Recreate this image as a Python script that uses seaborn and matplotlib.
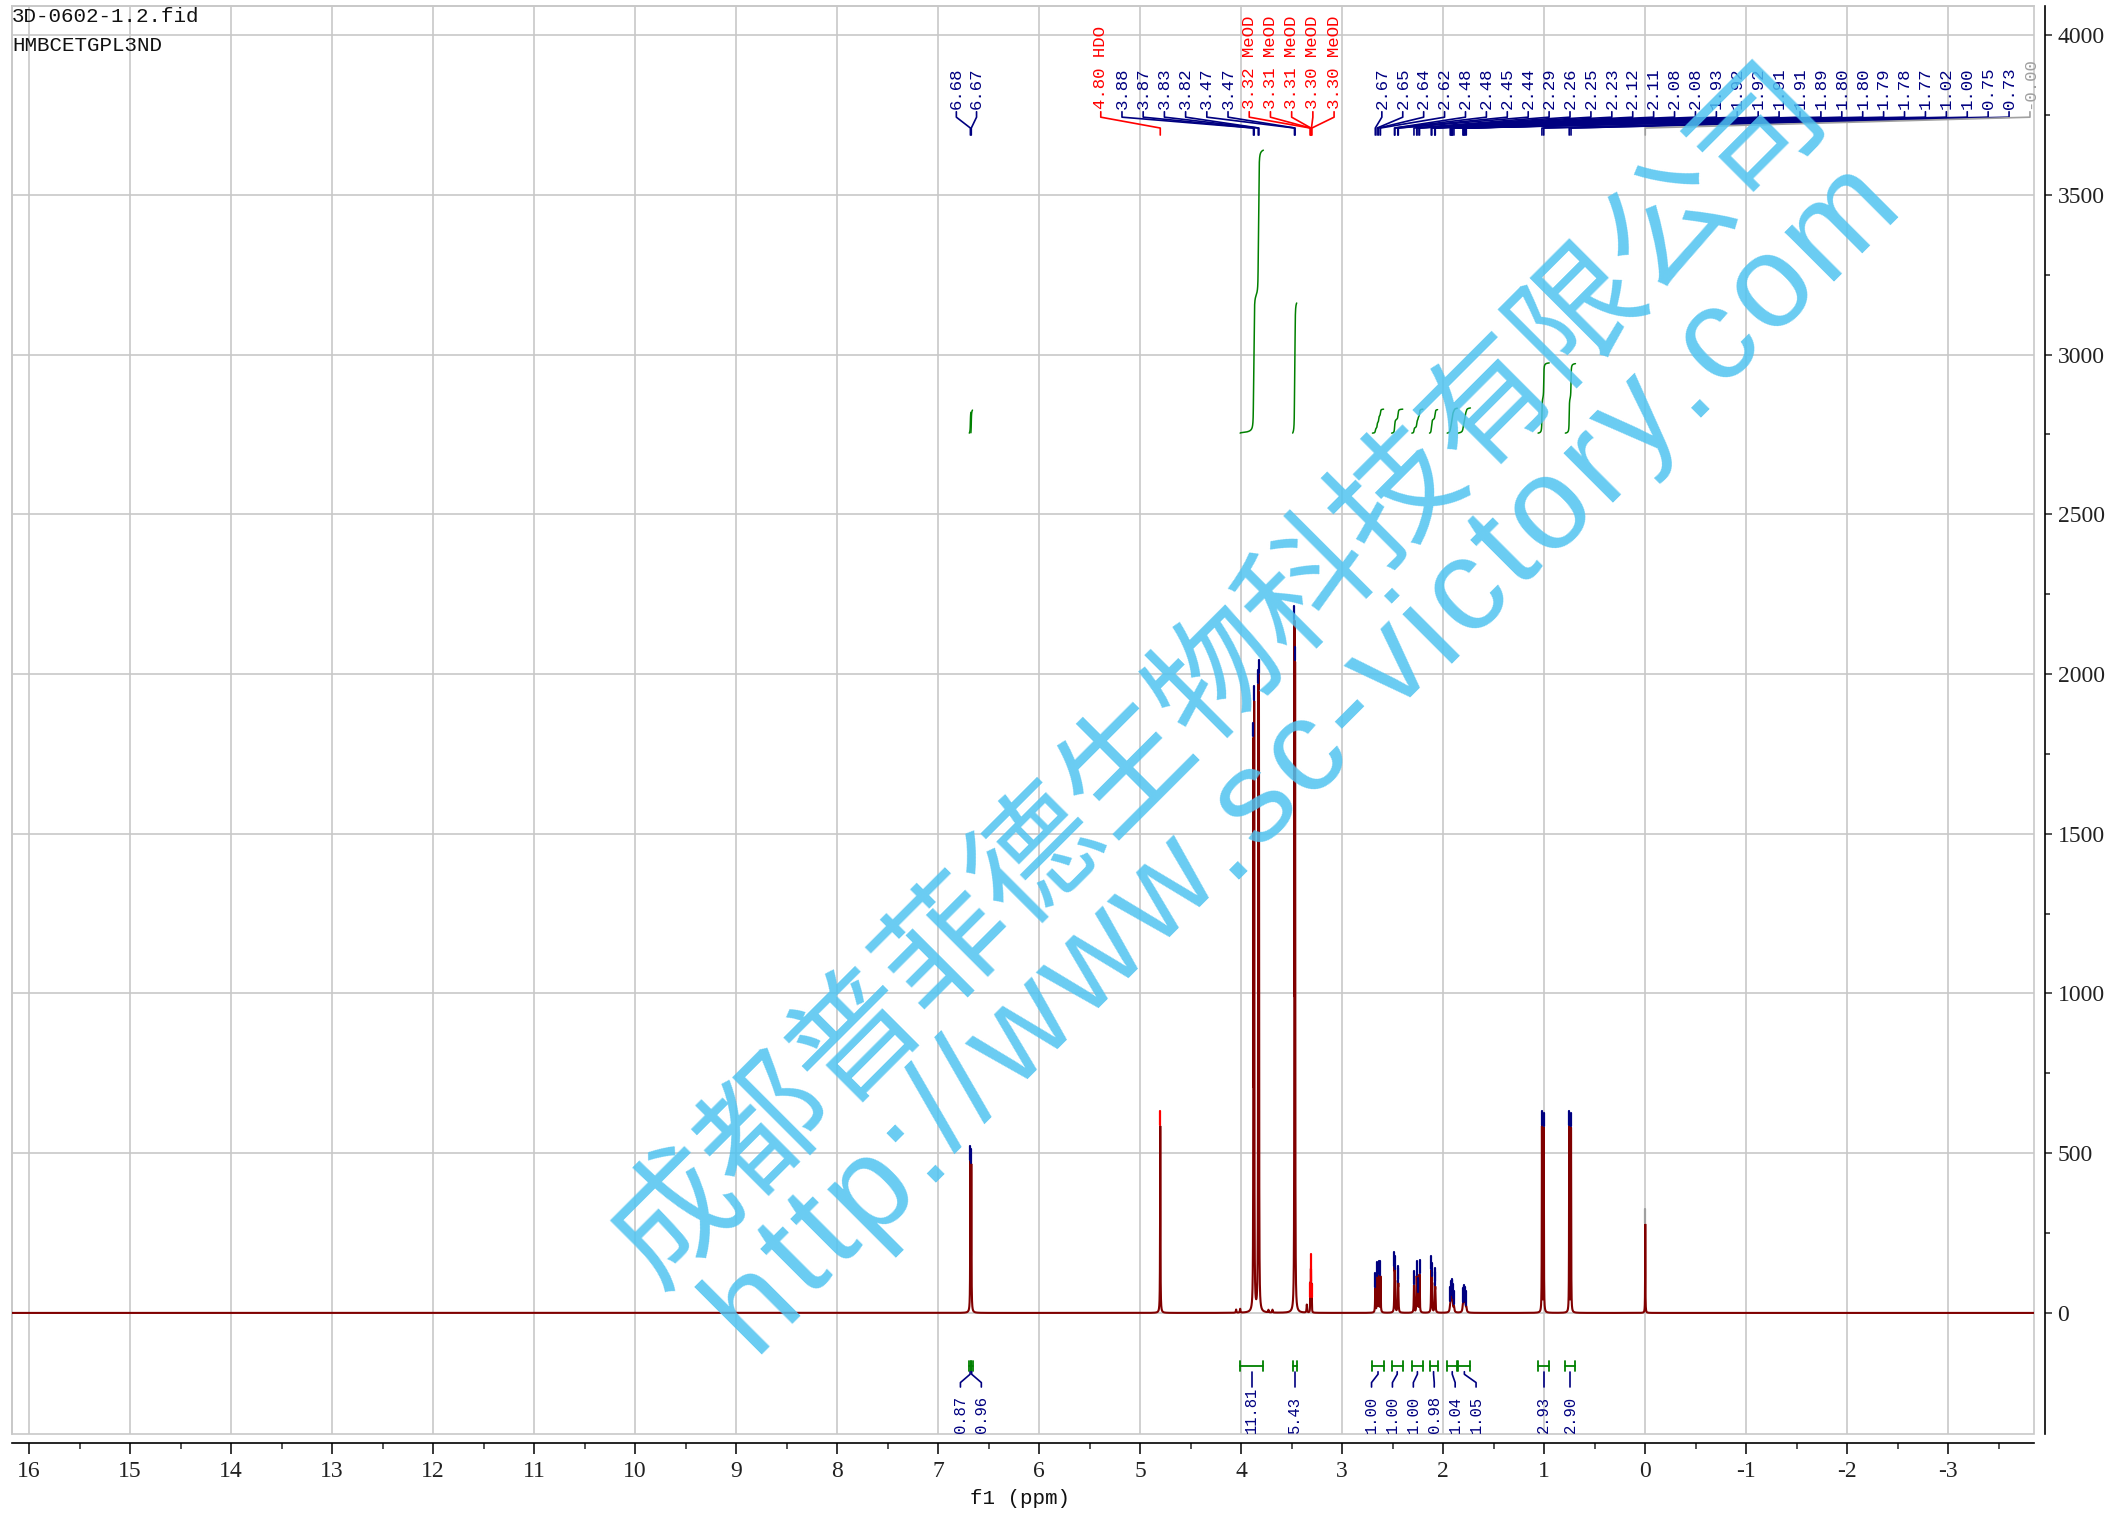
import numpy as np
import pandas as pd
import matplotlib
matplotlib.use("Agg")
import matplotlib.pyplot as plt
import seaborn as sns
from matplotlib.patches import Rectangle

# ---------------- data ----------------
peak_ppm = [6.681, 6.672, 4.801, 3.878, 3.871, 3.831, 3.824, 3.472, 3.466,
            3.317, 3.313, 3.309, 3.304, 3.300,
            2.672, 2.654, 2.638, 2.621, 2.482, 2.478, 2.449, 2.444,
            2.289, 2.262, 2.249, 2.234, 2.118, 2.112, 2.083, 2.078,
            1.930, 1.922, 1.917, 1.912, 1.906, 1.893,
            1.804, 1.798, 1.790, 1.782, 1.771,
            1.022, 1.004, 0.752, 0.734, -0.001]
peak_label = ["6.68", "6.67", "4.80 HDO", "3.88", "3.87", "3.83", "3.82", "3.47", "3.47",
              "3.32 MeOD", "3.31 MeOD", "3.31 MeOD", "3.30 MeOD", "3.30 MeOD",
              "2.67", "2.65", "2.64", "2.62", "2.48", "2.48", "2.45", "2.44",
              "2.29", "2.26", "2.25", "2.23", "2.12", "2.11", "2.08", "2.08",
              "1.93", "1.92", "1.92", "1.91", "1.91", "1.89",
              "1.80", "1.80", "1.79", "1.78", "1.77",
              "1.02", "1.00", "0.75", "0.73", "-0.00"]
peak_height = [455, 445, 585, 1690, 1810, 1850, 1885, 2020, 1880,
               35, 80, 125, 80, 35,
               75, 108, 112, 112, 115, 100, 85, 75,
               85, 112, 55, 118, 118, 92, 80, 65,
               22, 28, 28, 27, 25, 16,
               18, 22, 25, 22, 15,
               580, 575, 580, 575, 278]
peak_fwhm = [0.004, 0.004, 0.004, 0.0035, 0.0035, 0.0035, 0.0035, 0.0035, 0.0035,
             0.0025, 0.0025, 0.0025, 0.0025, 0.0025,
             0.005, 0.005, 0.005, 0.005, 0.005, 0.005, 0.005, 0.005,
             0.005, 0.005, 0.005, 0.005, 0.005, 0.005, 0.005, 0.005,
             0.009, 0.009, 0.009, 0.009, 0.009, 0.009,
             0.010, 0.010, 0.010, 0.010, 0.010,
             0.0035, 0.0035, 0.0035, 0.0035, 0.003]
peak_kind = ["c", "c", "s"] + ["c"] * 6 + ["s"] * 5 + ["c"] * 31 + ["r"]
peak_group = [0, 0] + [1] * 12 + [2] * 32

minor_ppm = [4.05, 4.01, 3.73, 3.69, 3.35]
minor_height = [10, 12, 8, 9, 25]
minor_fwhm = [0.006, 0.006, 0.006, 0.006, 0.006]

integral_start = [6.692, 6.676, 4.01, 3.49, 2.70, 2.51, 2.31, 2.135, 1.96, 1.85, 1.06, 0.79]
integral_end = [6.676, 6.660, 3.78, 3.45, 2.59, 2.40, 2.20, 2.055, 1.86, 1.73, 0.95, 0.69]
integral_value = [0.87, 0.96, 11.81, 5.43, 1.00, 1.00, 1.00, 0.98, 1.04, 1.05, 2.93, 2.90]
integral_label = ["0.87", "0.96", "11.81", "5.43", "1.00", "1.00", "1.00", "0.98",
                  "1.04", "1.05", "2.93", "2.90"]

x_ticks = list(range(-3, 17))
y_ticks = list(range(0, 4001, 500))
header_lines = ["3D-0602-1.2.fid", "HMBCETGPL3ND"]
x_label = "f1 (ppm)"
watermark_cn = "成都普菲德生物科技有限公司"
watermark_url = "http://www.sc-victory.com"

# ---------------- layout constants ----------------
W, H = 2112, 1516
XL, XR = 16.17, -3.85
YB, YT = -379, 4091
SPEC_COLOR = "#800000"
NAVY = "#000080"
RED = "#ff0000"
GRAY = "#a0a0a0"
GREEN = "#008000"
GRID = "#c8c8c8"
WM_COLOR = "#4fc3f0"
kind_color = {"c": NAVY, "s": RED, "r": GRAY}
label_start = [6.82, 5.39, 2.607]
label_step = [0.20, 0.21, 0.207]
INT_BASE = 2754
INT_SCALE = 75
INT_LABEL_STEP = 0.207

sns.set_style("white")
plt.rcParams["axes.unicode_minus"] = False
plt.rcParams["font.family"] = ["Liberation Serif", "DejaVu Serif"]

# ---------------- spectrum ----------------
ppm = np.arange(XL, XR, -0.00025)
spec = np.zeros_like(ppm)
for p, h, w in zip(peak_ppm + minor_ppm, peak_height + minor_height, peak_fwhm + minor_fwhm):
    spec += h / (1.0 + ((ppm - p) / (w / 2.0)) ** 2)
df = pd.DataFrame({"ppm": ppm, "intensity": spec})

fig = plt.figure(figsize=(W / 100, H / 100), dpi=100)
ax = fig.add_axes([12 / W, 1 - 1434 / H, (2034 - 12) / W, (1434 - 6) / H])

sns.lineplot(data=df, x="ppm", y="intensity", estimator=None, sort=False,
             color=SPEC_COLOR, lw=1.5, ax=ax, zorder=4)

# ---------------- integrals ----------------
for a, b, v in zip(integral_start, integral_end, integral_value):
    m = (ppm <= a) & (ppm >= b)
    cum = np.cumsum(spec[m])
    ycurve = INT_BASE + v * INT_SCALE * cum / cum[-1]
    sns.lineplot(x=ppm[m], y=ycurve, estimator=None, sort=False, color=GREEN,
                 lw=1.1, ax=ax, zorder=3)
    ax.plot([a, b], [-167, -167], color=GREEN, lw=1.3, zorder=3)
    ax.plot([a, a], [-152, -183], color=GREEN, lw=1.3, zorder=3)
    ax.plot([b, b], [-152, -183], color=GREEN, lw=1.3, zorder=3)

# integral label spreading (layout)
centers = [(a + b) / 2 for a, b in zip(integral_start, integral_end)]
clusters = [[0]]
for i in range(1, len(centers)):
    if centers[clusters[-1][-1]] - centers[i] < INT_LABEL_STEP:
        clusters[-1].append(i)
    else:
        clusters.append([i])
label_x = [0.0] * len(centers)
for cl in clusters:
    mean = np.mean([centers[i] for i in cl])
    n = len(cl)
    for k, i in enumerate(cl):
        label_x[i] = mean + ((n - 1) / 2 - k) * INT_LABEL_STEP
for i, c in enumerate(centers):
    lx = label_x[i]
    ax.plot([c, c, lx, lx], [-184, -192, -218, -232], color=NAVY, lw=1.2, zorder=3)
    ax.text(lx, -376, integral_label[i], rotation=90, ha="center", va="bottom",
            fontsize=11.2, color=NAVY, family=["Liberation Mono", "DejaVu Sans Mono"])

# ---------------- peak labels ----------------
counters = [0, 0, 0]
for p, lab, kind, g in zip(peak_ppm, peak_label, peak_kind, peak_group):
    k = counters[g]
    counters[g] += 1
    lx = label_start[g] - k * label_step[g]
    col = kind_color[kind]
    ax.plot([lx, lx, p, p], [3760, 3743, 3709, 3687], color=col, lw=1.2, zorder=3)
    ax.text(lx, 3768, lab, rotation=90, ha="center", va="bottom", fontsize=12.5,
            color=col, family=["Liberation Mono", "DejaVu Sans Mono"])
    top = float(np.interp(-p, -ppm, spec))
    ax.plot([p, p], [top + 4, top + 46], color=col, lw=1.6, zorder=5)

# ---------------- axes styling ----------------
ax.set_xlim(XL, XR)
ax.set_ylim(YB, YT)
ax.set_xlabel("")
ax.set_ylabel("")
ax.set_xticks(x_ticks)
ax.set_xticklabels([str(t) for t in x_ticks])
ax.set_xticks(np.arange(-3.5, 16.01, 0.5), minor=True)
ax.set_yticks(y_ticks)
ax.set_yticklabels([str(t) for t in y_ticks])
ax.set_yticks(np.arange(0, 4001, 250), minor=True)
ax.yaxis.tick_right()
ax.grid(True, which="major", color=GRID, lw=1.2, zorder=0)
ax.set_axisbelow(True)

for s in ["left", "top"]:
    ax.spines[s].set_color(GRID)
    ax.spines[s].set_linewidth(1.2)
ax.spines["bottom"].set_position(("outward", 6.5))
ax.spines["right"].set_position(("outward", 8))
for s in ["bottom", "right"]:
    ax.spines[s].set_color("black")
    ax.spines[s].set_linewidth(1.2)
ax.add_patch(Rectangle((0, 0), 1, 1, transform=ax.transAxes, fill=False,
                       edgecolor=GRID, lw=1.2, clip_on=False, zorder=1))

ax.tick_params(axis="x", which="major", direction="out", length=8, width=1.1,
               pad=5, labelsize=17, colors="black", bottom=True, labelcolor="#222222")
ax.tick_params(axis="x", which="minor", direction="out", length=4.3, width=1.1,
               bottom=True)
ax.tick_params(axis="y", which="major", direction="out", length=5, width=1.1,
               pad=4, labelsize=17, right=True, left=False, labelcolor="#222222")
ax.tick_params(axis="y", which="minor", direction="out", length=3.5, width=1.1,
               right=True, left=False)

# header texts
fig.text(12 / W, 1 - 7 / H, header_lines[0], ha="left", va="top", fontsize=15,
         color="#111111", family=["Liberation Mono", "DejaVu Sans Mono"])
fig.text(12 / W, 1 - 36 / H, header_lines[1], ha="left", va="top", fontsize=15,
         color="#111111", family=["Liberation Mono", "DejaVu Sans Mono"])
fig.text(1020 / W, 1 - 1498 / H, x_label, ha="center", va="center", fontsize=15,
         color="#111111", family=["Liberation Mono", "DejaVu Sans Mono"])

# watermark (Chinese line)
fig.text(1219 / W, 1 - 677 / H, watermark_cn, rotation=45, rotation_mode="anchor",
         ha="center", va="center", fontsize=92, color=WM_COLOR, alpha=0.85,
         family=["Noto Sans CJK SC", "DejaVu Sans"], zorder=10)

# watermark (URL line, slightly letter-spaced along a 45 degree baseline)
renderer = fig.canvas.get_renderer()
URL_FS = 94
URL_CENTER = (1300, H - 752)     # centre of the text band, pixels from bottom-left
URL_LENGTH = 1625
BASE_DROP = 39                   # baseline below the band centre, pixels
widths = []
for ch in watermark_url:
    t = fig.text(0, 0, ch, fontsize=URL_FS, family=["Liberation Sans", "DejaVu Sans"])
    widths.append(t.get_window_extent(renderer).width)
    t.remove()
extra = (URL_LENGTH - sum(widths)) / (len(watermark_url) - 1)
cs = np.cos(np.radians(45))
bx = URL_CENTER[0] + BASE_DROP * cs
by = URL_CENTER[1] - BASE_DROP * cs
sx = bx - URL_LENGTH / 2 * cs
sy = by - URL_LENGTH / 2 * cs
dist = 0.0
for ch, wdt in zip(watermark_url, widths):
    px = sx + dist * cs
    py = sy + dist * cs
    fig.text(px / W, py / H, ch, rotation=45, rotation_mode="anchor", ha="left",
             va="baseline", fontsize=URL_FS, color=WM_COLOR, alpha=0.85,
             family=["Liberation Sans", "DejaVu Sans"], zorder=10)
    dist += wdt + extra

fig.savefig("out.png", dpi=100)
